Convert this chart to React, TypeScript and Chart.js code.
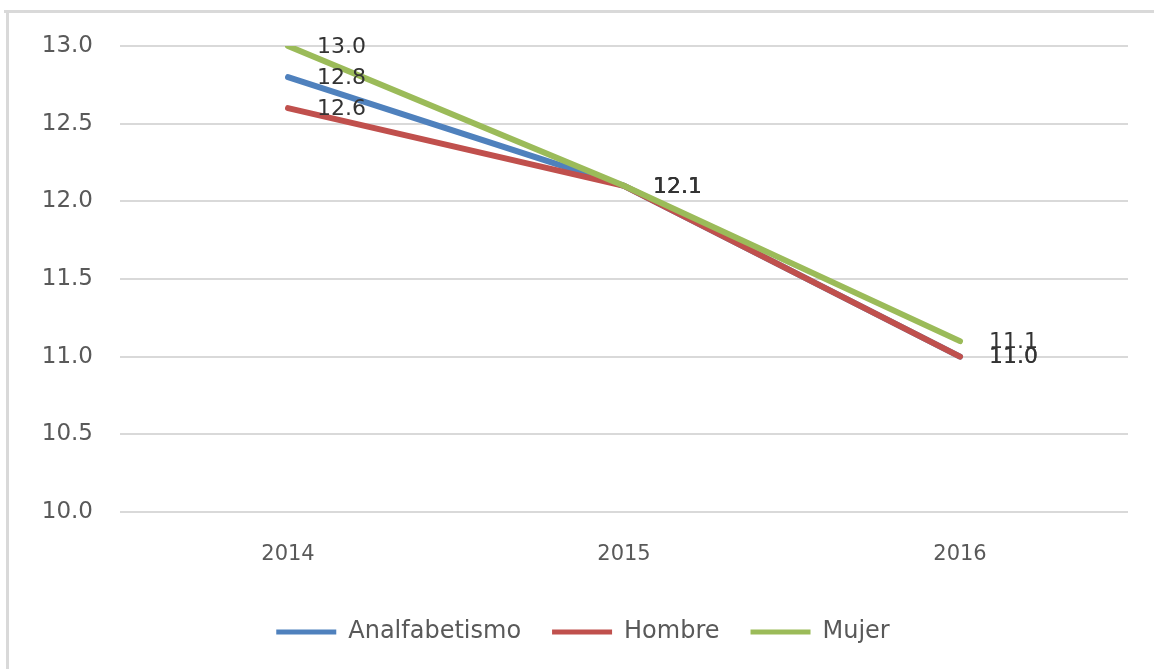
import React, { useEffect, useRef } from "react";
import { Chart, registerables } from "chart.js";

Chart.register(...registerables);

const categories = ["2014", "2015", "2016"];
const analfabetismo = [12.8, 12.1, 11.0];
const hombre = [12.6, 12.1, 11.0];
const mujer = [13.0, 12.1, 11.1];
const seriesNames = ["Analfabetismo", "Hombre", "Mujer"];
const seriesColors = ["#4F81BD", "#C0504D", "#9BBB59"];
const yMin = 10;
const yMax = 13;
const yStep = 0.5;

const FONT = "'DejaVu Sans', sans-serif";

const frame = {
  id: "frame",
  beforeDraw(chart: any) {
    const ctx = chart.ctx;
    ctx.save();
    ctx.fillStyle = "#fff";
    ctx.fillRect(0, 0, chart.width, chart.height);
    ctx.fillStyle = "#d9d9d9";
    ctx.fillRect(4, 10, chart.width, 3);
    ctx.fillRect(6, 10, 3, chart.height);
    ctx.restore();
  },
};

const dataLabels = {
  id: "dataLabels",
  afterDatasetsDraw(chart: any) {
    const ctx = chart.ctx;
    ctx.save();
    ctx.font = `22px ${FONT}`;
    ctx.fillStyle = "#333333";
    ctx.textAlign = "left";
    ctx.textBaseline = "middle";
    chart.data.datasets.forEach((ds: any, i: number) => {
      const meta = chart.getDatasetMeta(i);
      meta.data.forEach((pt: any, j: number) => {
        const v = ds.data[j] as number;
        ctx.fillText(v.toFixed(1), pt.x + 29, pt.y + 1);
      });
    });
    ctx.restore();
  },
};

export default function App() {
  const ref = useRef<HTMLCanvasElement | null>(null);
  useEffect(() => {
    if (!ref.current) return;
    const values = [analfabetismo, hombre, mujer];
    const chart = new Chart(ref.current, {
      type: "line",
      data: {
        labels: categories,
        datasets: values.map((d, i) => ({
          label: seriesNames[i],
          data: d,
          order: values.length - 1 - i,
          borderColor: seriesColors[i],
          backgroundColor: seriesColors[i],
          borderWidth: 6,
          borderCapStyle: "round" as const,
          pointRadius: 0,
          tension: 0,
          fill: false,
        })),
      },
      options: {
        animation: false,
        responsive: false,
        layout: { padding: { top: 46, right: 26, left: 38, bottom: 15 } },
        plugins: {
          legend: {
            position: "bottom",
            labels: {
              font: { family: FONT, size: 24 },
              color: "#595959",
              boxWidth: 60,
              boxHeight: 5,
              padding: 31,
              sort: (a: any, b: any) => a.datasetIndex - b.datasetIndex,
              generateLabels: (chart: any) =>
                Chart.defaults.plugins.legend.labels
                  .generateLabels(chart)
                  .map((it: any) => ({ ...it, lineWidth: 0 })),
            },
          },
          tooltip: { enabled: false },
        },
        scales: {
          x: {
            offset: true,
            grid: { display: false, drawTicks: false },
            border: { display: false },
            ticks: { font: { family: FONT, size: 21 }, color: "#595959", padding: 30 },
            afterFit: (s: any) => {
              s.height = 77;
            },
          },
          y: {
            min: yMin,
            max: yMax,
            grid: { color: "#d9d9d9", lineWidth: 2, drawTicks: false },
            border: { display: false },
            ticks: {
              stepSize: yStep,
              font: { family: FONT, size: 23 },
              color: "#595959",
              padding: 27,
              callback: (v: any) => Number(v).toFixed(1),
            },
            afterFit: (s: any) => {
              s.width = 82;
            },
          },
        },
      },
      plugins: [frame, dataLabels],
    });
    return () => chart.destroy();
  }, []);

  return (
    <div
      style={{
        position: "fixed",
        left: 0,
        top: 0,
        width: 1154,
        height: 669,
        background: "#fff",
        overflow: "hidden",
      }}
    >
      <canvas
        ref={ref}
        width={1154}
        height={669}
        style={{ position: "absolute", left: 0, top: 0, width: 1154, height: 669 }}
      />
    </div>
  );
}
